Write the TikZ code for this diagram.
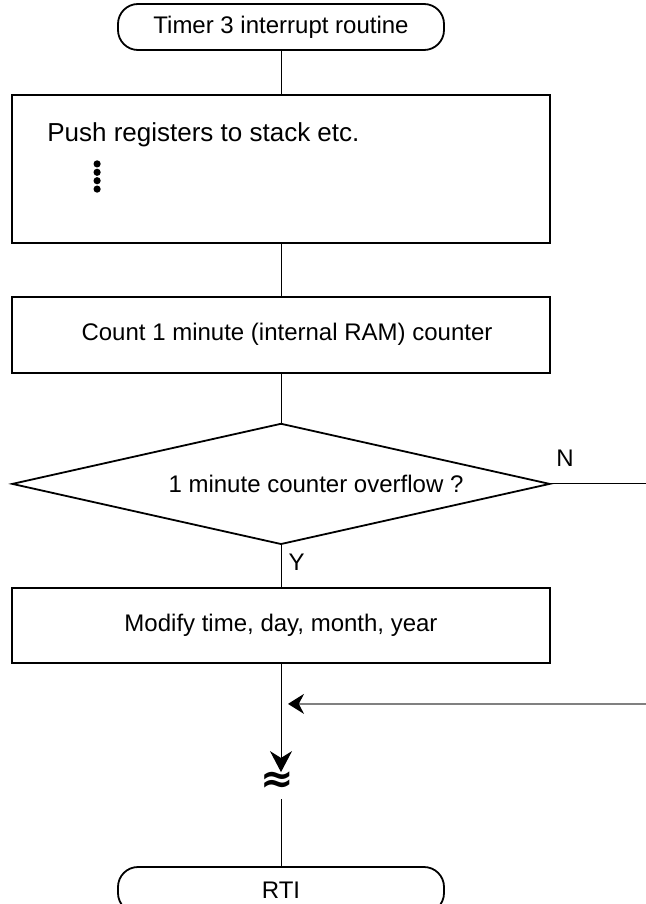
\documentclass[tikz,border=0pt]{standalone}
\usepackage{fontspec}
\setmainfont{Liberation Sans}
\newfontfamily\symbfont{DejaVu Sans}
\usetikzlibrary{arrows.meta, positioning, shapes.geometric}

\begin{document}
\begin{tikzpicture}[x=1pt, y=-1pt,
    term/.style={draw, line width=1.8pt, rounded corners=20pt,
      minimum width=326pt, minimum height=46pt, inner sep=0pt,
      font=\fontsize{24}{28}\selectfont},
    proc/.style={draw, line width=1.8pt, minimum width=538pt, inner sep=0pt,
      font=\fontsize{24}{28}\selectfont},
    dec/.style={draw, diamond, aspect=4.45, line width=1.8pt,
      minimum width=538pt, minimum height=121pt, inner sep=0pt,
      font=\fontsize{24}{28}\selectfont},
    flow/.style={line width=1pt},
    lbl/.style={font=\fontsize{24}{28}\selectfont, inner sep=0pt}
  ]
  \useasboundingbox (0,0) rectangle (645,904);

  \node[term] (timer) at (281,27) {Timer 3 interrupt routine};
  \node[proc, minimum height=148pt, below=43pt of timer] (push) {};
  \node[lbl, font=\fontsize{26}{30}\selectfont, anchor=base west] (pushtxt)
    at ([xshift=36pt,yshift=-48pt]push.north west) {Push registers to stack etc.};
  \foreach \k in {0,...,3}
    \fill[shift={(push.north west)}] (86,70+8.4*\k) circle (3.6pt);
  \node[proc, minimum height=76pt, below=52pt of push,
    label={[lbl, xshift=6pt]center:Count 1 minute (internal RAM) counter}] (count) {};
  \node[dec, below=49pt of count,
    label={[lbl, xshift=35pt]center:1 minute counter overflow ?}] (test) {};
  \node[proc, minimum height=75pt, below=42pt of test] (modify) {Modify time, day, month, year};

  \coordinate (tip) at ([yshift=-108pt]modify.south);
  \node[font=\symbfont\bfseries\fontsize{40}{40}\selectfont, inner sep=0pt] (brk)
    at ([xshift=-4pt,yshift=-118pt]modify.south) {≈};
  \coordinate (resume) at ([yshift=-135pt]modify.south);
  \node[term, below=67pt of resume] (rti) {RTI};

  \coordinate[right=95pt of test.east] (nout);
  \coordinate[below=220pt of nout] (nin);
  \coordinate (nend) at (nin -| tip);

  \draw[flow] (timer) -- (push);
  \draw[flow] (push) -- (count);
  \draw[flow] (count) -- (test);
  \draw[flow] (test) -- node[lbl, right=7pt, pos=0.4] {Y} (modify);
  \draw[flow] (test.east) -- node[lbl, above=17pt, pos=0.15] {N} (nout);
  \draw[flow, -{Stealth[length=21pt,width=22pt]}] (modify) -- (tip);
  \draw[flow] (resume) -- (rti);
  \draw[flow, line width=1.3pt, gray, -{Stealth[length=16pt,width=20pt,color=black]}]
    (nin) -- ([xshift=7pt]nend);
\end{tikzpicture}
\end{document}
